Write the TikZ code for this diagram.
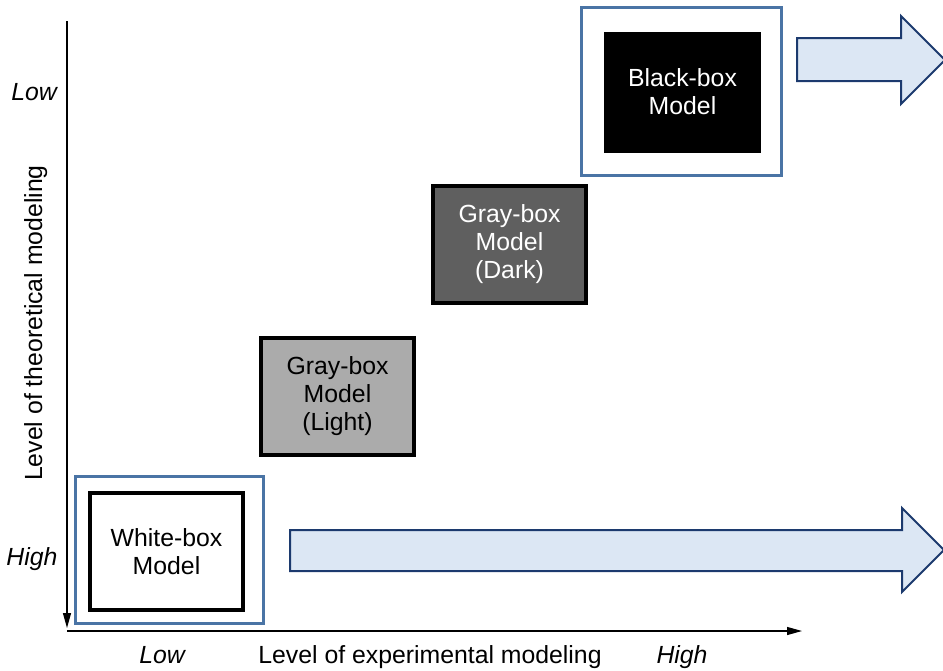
\documentclass[tikz,border=0pt]{standalone}
\usepackage{fontspec}
\setmainfont{Liberation Sans}
\usetikzlibrary{arrows.meta}
\definecolor{frameBlue}{HTML}{4A74A5}
\definecolor{arrowFill}{HTML}{DCE7F4}
\definecolor{arrowLine}{HTML}{1C3A6E}
\definecolor{greyLight}{HTML}{ABABAB}
\definecolor{greyDark}{HTML}{5F5F5F}
\tikzstyle{model}=[draw=black, line width=2pt, minimum width=76.5pt, minimum height=58.5pt, inner sep=0pt, align=center, font=\fontsize{12.4}{14}\selectfont]
\tikzstyle{frame}=[draw=frameBlue, line width=1.5pt]
\tikzstyle{bigarrow}=[fill=arrowFill, draw=arrowLine, line width=1pt, line join=miter]
\tikzstyle{axis}=[line width=0.6pt, -{Triangle[length=7.5pt, width=4pt]}]
\tikzstyle{axislabel}=[anchor=base, inner sep=0pt, font=\fontsize{12.4}{14}\selectfont]

\begin{document}
\begin{tikzpicture}[x=0.5pt, y=-0.5pt]
	\useasboundingbox (0,0) rectangle (943,670);

	% Axes
	\coordinate (ytop) at (67,21);
	\coordinate (yend) at (67,628);
	\coordinate (xstart) at (67,631);
	\coordinate (xend) at (802,631);
	\draw[axis] (ytop) -- (yend);
	\draw[axis] (xstart) -- (xend);

	\node[axislabel] (ylow) at (34,100) {\itshape Low};
	\node[axislabel] (yhigh) at (32,565) {\itshape High};
	\node[axislabel, rotate=90] (ytitle) at (42,323) {Level of theoretical modeling};
	\node[axislabel] (xlow) at (162,663) {\itshape Low};
	\node[axislabel] (xtitle) at (430,663) {Level of experimental modeling};
	\node[axislabel] (xhigh) at (682,663) {\itshape High};

	% Highlight frames
	\draw[frame] (75.5,476.5) rectangle (263.5,623.5);
	\draw[frame] (581.5,7.5) rectangle (781.5,175.5);

	% Models
	\node[model, fill=white] (white) at (166.5,551.5) {White-box\\Model};
	\node[model, fill=greyLight] (light) at (337.5,396.5) {Gray-box\\Model\\(Light)};
	\node[model, fill=greyDark, text=white] (dark) at (509.5,244) {Gray-box\\Model\\(Dark)};
	\node[model, fill=black, text=white] (black) at (682.5,92) {Black-box\\Model};

	% Block arrows
	\draw[bigarrow] (290,530) -- (902,530) -- (902,508) -- (944,550)
		-- (902,592) -- (902,571) -- (290,571) -- cycle;
	\draw[bigarrow] (797,38) -- (901,38) -- (901,16) -- (945,60)
		-- (901,104) -- (901,81) -- (797,81) -- cycle;
\end{tikzpicture}
\end{document}
